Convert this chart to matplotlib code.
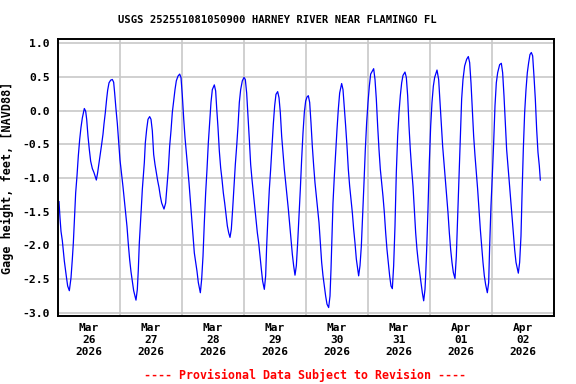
import pandas as pd
import matplotlib
matplotlib.use("Agg")
import matplotlib.pyplot as plt
import matplotlib.dates as mdates

title = "USGS 252551081050900 HARNEY RIVER NEAR FLAMINGO FL"
ylabel = "Gage height, feet, [NAVD88]"
footer = "---- Provisional Data Subject to Revision ----"
start = pd.Timestamp("2026-03-26 00:00")
end = pd.Timestamp("2026-04-03 00:00")

# hours after Mar 26 00:00
hours = [
    0.39, 0.77, 1.16, 1.68, 2.06, 2.45, 2.84, 3.23, 3.74, 4.39, 5.03, 5.55, 5.94,
    6.32, 6.84, 7.35, 7.87, 8.39, 8.90, 9.42, 10.19, 10.71, 11.10, 11.61, 12.13,
    12.64, 13.29, 13.93, 14.84, 15.35, 15.87, 16.38, 16.90, 17.42, 17.80, 18.32,
    18.83, 19.22, 19.74, 20.38, 21.03, 21.54, 21.93, 22.45, 22.96, 23.48, 23.99,
    24.64, 25.16, 25.67, 26.19, 26.71, 27.22, 27.74, 28.26, 28.77, 29.29, 30.19,
    30.71, 31.10, 31.48, 31.87, 32.26, 32.64, 33.03, 33.42, 33.80, 34.32, 34.84,
    35.48, 36.00, 36.51, 37.03, 37.55, 38.06, 38.58, 39.10, 39.61, 40.13, 41.03,
    41.67, 42.19, 42.71, 43.22, 43.74, 44.25, 44.77, 45.29, 45.80, 46.45, 47.10,
    47.61, 48.13, 48.64, 49.16, 49.68, 50.19, 50.71, 51.22, 51.74, 52.26, 52.77,
    53.29, 53.80, 54.32, 55.10, 55.61, 56.13, 56.64, 57.16, 57.68, 58.19, 58.71,
    59.22, 59.74, 60.51, 61.03, 61.42, 61.93, 62.45, 62.97, 63.48, 64.00, 64.52,
    65.03, 65.55, 66.06, 66.58, 67.09, 67.61, 68.13, 68.64, 69.16, 69.68, 70.19,
    70.71, 71.35, 72.00, 72.51, 73.03, 73.55, 74.06, 74.58, 75.09, 75.61, 76.13,
    76.64, 77.16, 77.68, 78.19, 78.71, 79.22, 79.87, 80.38, 80.77, 81.29, 81.80,
    82.32, 82.84, 83.35, 83.87, 84.38, 85.03, 85.55, 86.06, 86.58, 87.10, 87.61,
    88.13, 88.64, 89.16, 89.68, 90.19, 90.71, 91.22, 91.74, 92.26, 92.77, 93.29,
    93.80, 94.32, 94.84, 95.35, 95.87, 96.39, 96.90, 97.42, 97.93, 98.45, 98.97,
    99.48, 100.00, 100.51, 101.03, 101.55, 102.06, 102.58, 103.09, 103.61, 104.13,
    104.77, 105.29, 105.68, 106.06, 106.45, 106.97, 107.48, 108.00, 108.51, 109.03,
    109.80, 110.32, 110.84, 111.35, 111.87, 112.38, 112.90, 113.42, 113.93, 114.45,
    114.96, 115.48, 116.00, 116.38, 116.90, 117.42, 117.93, 118.45, 118.96, 119.48,
    120.00, 120.51, 121.03, 122.19, 122.71, 123.22, 123.74, 124.26, 124.77, 125.29,
    125.80, 126.32, 126.84, 127.35, 127.87, 128.38, 128.90, 129.42, 129.93, 130.45,
    130.96, 131.48, 132.00, 132.51, 133.03, 133.54, 134.32, 134.84, 135.35, 135.87,
    136.38, 136.90, 137.42, 137.93, 138.45, 138.96, 139.48, 140.00, 140.51, 141.03,
    141.55, 142.06, 142.32, 142.71, 143.22, 143.74, 144.26, 144.77, 145.29, 145.80,
    146.71, 147.35, 147.87, 148.38, 148.90, 149.42, 149.93, 150.45, 150.96, 151.48,
    152.00, 152.51, 153.03, 153.67, 154.19, 154.71, 155.22, 155.74, 156.25, 156.77,
    157.41, 158.19, 158.83, 159.35, 159.87, 160.39, 160.90, 161.42, 161.93, 162.45,
    162.96, 163.48, 164.00, 164.51, 165.03, 165.54, 166.19, 166.71, 167.09, 167.61,
    168.12, 168.64, 169.16, 169.67, 170.19, 170.96, 171.61, 172.12, 172.64, 173.16,
    173.67, 174.19, 174.71, 175.22, 175.74, 176.25, 176.77, 177.29, 178.19, 178.70,
    179.22, 179.61, 180.12, 180.64, 181.16, 181.67, 182.19, 182.70, 183.22, 183.74,
    184.25, 184.77, 185.29, 185.80, 186.32, 186.71,
]

gage = [
    -1.35, -1.59, -1.79, -1.93, -2.08, -2.23, -2.35, -2.46, -2.60, -2.67, -2.48, -2.20, -1.96,
    -1.66, -1.22, -0.97, -0.67, -0.43, -0.25, -0.11, 0.03, -0.01, -0.13, -0.38, -0.58,
    -0.75, -0.86, -0.92, -1.03, -0.92, -0.78, -0.65, -0.50, -0.35, -0.20, -0.03,
    0.17, 0.30, 0.41, 0.45, 0.46, 0.42, 0.26, 0.02, -0.19, -0.47, -0.73,
    -0.95, -1.13, -1.32, -1.52, -1.72, -1.98, -2.21, -2.39, -2.53, -2.67, -2.81,
    -2.65, -2.35, -1.96, -1.71, -1.44, -1.17, -0.97, -0.77, -0.48, -0.28, -0.13,
    -0.09, -0.13, -0.30, -0.65, -0.80, -0.92, -1.04, -1.14, -1.27, -1.37, -1.46,
    -1.37, -1.12, -0.87, -0.53, -0.30, -0.03, 0.14, 0.31, 0.44, 0.51, 0.54,
    0.49, 0.22, -0.11, -0.40, -0.62, -0.85, -1.07, -1.32, -1.59, -1.86, -2.11,
    -2.25, -2.38, -2.55, -2.70, -2.50, -2.16, -1.66, -1.22, -0.87, -0.48, -0.18,
    0.12, 0.31, 0.38, 0.29, 0.04, -0.25, -0.60, -0.85, -1.02, -1.22, -1.37,
    -1.54, -1.71, -1.81, -1.88, -1.76, -1.46, -1.12, -0.80, -0.53, -0.23, 0.12,
    0.31, 0.44, 0.49, 0.46, 0.26, -0.08, -0.43, -0.80, -1.02, -1.22, -1.41,
    -1.61, -1.81, -1.96, -2.16, -2.35, -2.53, -2.65, -2.45, -2.01, -1.56, -1.17,
    -0.87, -0.53, -0.20, 0.07, 0.24, 0.28, 0.19, -0.03, -0.38, -0.62, -0.87,
    -1.07, -1.27, -1.46, -1.69, -1.91, -2.13, -2.30, -2.44, -2.30, -1.96, -1.56,
    -1.17, -0.72, -0.33, -0.03, 0.14, 0.20, 0.22, 0.12, -0.18, -0.53, -0.82,
    -1.07, -1.27, -1.46, -1.66, -1.96, -2.25, -2.45, -2.60, -2.75, -2.87,
    -2.92, -2.75, -2.35, -1.86, -1.37, -0.97, -0.62, -0.28, 0.02, 0.26,
    0.40, 0.31, 0.04, -0.23, -0.53, -0.87, -1.12, -1.32, -1.51, -1.76,
    -1.96, -2.20, -2.35, -2.45, -2.30, -2.01, -1.56, -1.07, -0.58, -0.18,
    0.12, 0.36, 0.54, 0.62, 0.46, 0.17, -0.23, -0.58, -0.87, -1.07,
    -1.27, -1.51, -1.81, -2.06, -2.25, -2.45, -2.60, -2.64, -2.30, -1.71,
    -0.92, -0.38, -0.03, 0.22, 0.41, 0.52, 0.57, 0.49, 0.22, -0.23,
    -0.58, -0.87, -1.12, -1.46, -1.81, -2.06, -2.25, -2.40, -2.55, -2.70,
    -2.82, -2.65, -2.45, -2.06, -1.46, -0.77, -0.23, 0.12, 0.36, 0.49,
    0.60, 0.46, 0.12, -0.23, -0.53, -0.77, -1.02, -1.27, -1.51, -1.81,
    -2.06, -2.25, -2.40, -2.49, -2.16, -1.56, -0.97, -0.33, 0.17, 0.46,
    0.66, 0.76, 0.80, 0.71, 0.41, 0.02, -0.38, -0.67, -0.92, -1.17,
    -1.46, -1.76, -2.01, -2.25, -2.45, -2.58, -2.70, -2.55, -2.01, -1.41,
    -0.97, -0.48, 0.07, 0.41, 0.56, 0.68, 0.70, 0.56, 0.22, -0.18,
    -0.58, -0.82, -1.07, -1.32, -1.56, -1.81, -2.06, -2.25, -2.41, -2.25,
    -1.86, -1.27, -0.58, -0.03, 0.31, 0.56, 0.71, 0.83, 0.86, 0.81,
    0.51, 0.17, -0.28, -0.62, -0.82, -1.03,
]

days = pd.date_range(start, end, freq="D")
ytick_vals = [1.0, 0.5, 0.0, -0.5, -1.0, -1.5, -2.0, -2.5, -3.0]

times = start + pd.to_timedelta(hours, unit="h")

plt.rcParams["font.family"] = "DejaVu Sans Mono"
plt.rcParams["font.weight"] = "bold"

fig = plt.figure(figsize=(5.76, 3.84), dpi=100)
ax = fig.add_axes([58 / 576, 1 - 316 / 384, 496 / 576, 277 / 384])

ax.plot(times, gage, color="#0000ff", lw=0.9)

ax.set_xlim(start, end)
ax.set_ylim(-3.045, 1.06)

# gridlines at midnight, labels at noon
ax.set_xticks(days, minor=False)
ax.set_xticklabels([])
noon = days[:-1] + pd.Timedelta(hours=12)
ax.set_xticks(noon, minor=True)
ax.set_xticklabels([d.strftime("%b\n%d\n%Y") for d in noon], minor=True,
                   fontsize=8, fontweight="bold", linespacing=1.25)
ax.set_yticks(ytick_vals)
ax.set_yticklabels(["%.1f" % v for v in ytick_vals], fontsize=8.2, fontweight="bold")

ax.grid(True, which="major", color="#c8c8c8", lw=1.2)
ax.set_axisbelow(True)
ax.tick_params(which="both", length=0)
ax.tick_params(axis="y", pad=6)
ax.tick_params(axis="x", which="minor", pad=5)
for s in ax.spines.values():
    s.set_linewidth(1.4)

ax.set_ylabel(ylabel, fontsize=8.5, fontweight="bold", labelpad=6)
fig.text(277 / 576, 1 - 20 / 384, title, ha="center", va="center", fontsize=7.6, fontweight="bold")
fig.text(305.5 / 576, 1 - 375 / 384, footer, ha="center", va="center", fontsize=8.4,
         fontweight="bold", color="#ff0000")

fig.savefig("out.png", dpi=100)
